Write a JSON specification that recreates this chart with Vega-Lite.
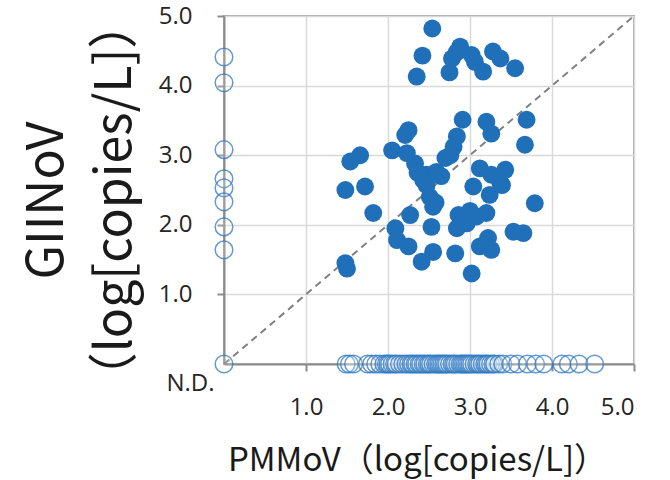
{
  "$schema": "https://vega.github.io/schema/vega-lite/v6.json",
  "width": 410,
  "height": 348,
  "autosize": {"type": "none"},
  "padding": {"left": 224, "top": 16, "right": 36, "bottom": 116},
  "background": "white",
  "config": {
    "view": {"stroke": "#a6a6a6", "strokeWidth": 2},
    "axis": {
      "labelFont": "Open Sans",
      "labelFontSize": 24,
      "labelColor": "#262626",
      "domainColor": "#8c8c8c",
      "domainWidth": 2,
      "tickColor": "#8c8c8c",
      "tickWidth": 2,
      "tickSize": 7,
      "gridColor": "#d9d9d9",
      "gridWidth": 1.5,
      "titleFont": "Noto Sans CJK JP",
      "titleFontWeight": "normal",
      "titleColor": "#1a1a1a"
    }
  },
  "datasets": {
    "diag": [{"pmmov": 0, "gii": 0}, {"pmmov": 5, "gii": 5}],
    "pts": [
      {"pmmov": 2.54, "gii": 4.82, "status": "both"},
      {"pmmov": 2.42, "gii": 4.43, "status": "both"},
      {"pmmov": 2.35, "gii": 4.13, "status": "both"},
      {"pmmov": 2.75, "gii": 4.19, "status": "both"},
      {"pmmov": 2.88, "gii": 4.56, "status": "both"},
      {"pmmov": 2.78, "gii": 4.39, "status": "both"},
      {"pmmov": 2.84, "gii": 4.48, "status": "both"},
      {"pmmov": 3.02, "gii": 4.44, "status": "both"},
      {"pmmov": 3.06, "gii": 4.34, "status": "both"},
      {"pmmov": 3.16, "gii": 4.2, "status": "both"},
      {"pmmov": 3.28, "gii": 4.49, "status": "both"},
      {"pmmov": 3.37, "gii": 4.39, "status": "both"},
      {"pmmov": 3.55, "gii": 4.25, "status": "both"},
      {"pmmov": 2.91, "gii": 3.51, "status": "both"},
      {"pmmov": 3.2, "gii": 3.48, "status": "both"},
      {"pmmov": 3.26, "gii": 3.31, "status": "both"},
      {"pmmov": 3.69, "gii": 3.51, "status": "both"},
      {"pmmov": 3.67, "gii": 3.15, "status": "both"},
      {"pmmov": 2.25, "gii": 3.36, "status": "both"},
      {"pmmov": 2.21, "gii": 3.29, "status": "both"},
      {"pmmov": 2.05, "gii": 3.07, "status": "both"},
      {"pmmov": 2.23, "gii": 3.03, "status": "both"},
      {"pmmov": 2.33, "gii": 2.88, "status": "both"},
      {"pmmov": 2.84, "gii": 3.27, "status": "both"},
      {"pmmov": 2.8, "gii": 3.12, "status": "both"},
      {"pmmov": 2.76, "gii": 3.0, "status": "both"},
      {"pmmov": 2.7, "gii": 2.96, "status": "both"},
      {"pmmov": 2.47, "gii": 2.72, "status": "both"},
      {"pmmov": 2.59, "gii": 2.76, "status": "both"},
      {"pmmov": 1.66, "gii": 3.0, "status": "both"},
      {"pmmov": 1.54, "gii": 2.91, "status": "both"},
      {"pmmov": 1.48, "gii": 2.5, "status": "both"},
      {"pmmov": 1.72, "gii": 2.55, "status": "both"},
      {"pmmov": 3.12, "gii": 2.81, "status": "both"},
      {"pmmov": 3.26, "gii": 2.72, "status": "both"},
      {"pmmov": 3.43, "gii": 2.79, "status": "both"},
      {"pmmov": 3.04, "gii": 2.55, "status": "both"},
      {"pmmov": 3.37, "gii": 2.6, "status": "both"},
      {"pmmov": 2.43, "gii": 2.64, "status": "both"},
      {"pmmov": 1.82, "gii": 2.17, "status": "both"},
      {"pmmov": 2.27, "gii": 2.14, "status": "both"},
      {"pmmov": 2.51, "gii": 2.4, "status": "both"},
      {"pmmov": 2.55, "gii": 2.26, "status": "both"},
      {"pmmov": 2.58, "gii": 2.32, "status": "both"},
      {"pmmov": 2.53, "gii": 1.97, "status": "both"},
      {"pmmov": 2.09, "gii": 1.95, "status": "both"},
      {"pmmov": 2.11, "gii": 1.78, "status": "both"},
      {"pmmov": 2.25, "gii": 1.69, "status": "both"},
      {"pmmov": 2.41, "gii": 1.47, "status": "both"},
      {"pmmov": 2.55, "gii": 1.61, "status": "both"},
      {"pmmov": 2.82, "gii": 1.59, "status": "both"},
      {"pmmov": 3.02, "gii": 1.3, "status": "both"},
      {"pmmov": 2.86, "gii": 2.14, "status": "both"},
      {"pmmov": 2.84, "gii": 1.95, "status": "both"},
      {"pmmov": 2.96, "gii": 2.02, "status": "both"},
      {"pmmov": 3.08, "gii": 2.12, "status": "both"},
      {"pmmov": 3.2, "gii": 2.17, "status": "both"},
      {"pmmov": 3.24, "gii": 2.43, "status": "both"},
      {"pmmov": 3.39, "gii": 2.57, "status": "both"},
      {"pmmov": 3.12, "gii": 1.69, "status": "both"},
      {"pmmov": 3.22, "gii": 1.81, "status": "both"},
      {"pmmov": 3.26, "gii": 1.64, "status": "both"},
      {"pmmov": 3.53, "gii": 1.9, "status": "both"},
      {"pmmov": 3.65, "gii": 1.88, "status": "both"},
      {"pmmov": 3.79, "gii": 2.31, "status": "both"},
      {"pmmov": 1.48, "gii": 1.45, "status": "both"},
      {"pmmov": 1.5, "gii": 1.37, "status": "both"},
      {"pmmov": 2.47, "gii": 2.57, "status": "both"},
      {"pmmov": 2.92, "gii": 2.08, "status": "both"},
      {"pmmov": 3.0, "gii": 2.2, "status": "both"},
      {"pmmov": 2.9, "gii": 2.02, "status": "both"},
      {"pmmov": 2.36, "gii": 2.75, "status": "both"},
      {"pmmov": 2.65, "gii": 2.7, "status": "both"},
      {"pmmov": 0, "gii": 4.41, "status": "nd"},
      {"pmmov": 0, "gii": 4.04, "status": "nd"},
      {"pmmov": 0, "gii": 3.08, "status": "nd"},
      {"pmmov": 0, "gii": 2.66, "status": "nd"},
      {"pmmov": 0, "gii": 2.53, "status": "nd"},
      {"pmmov": 0, "gii": 2.33, "status": "nd"},
      {"pmmov": 0, "gii": 1.97, "status": "nd"},
      {"pmmov": 0, "gii": 1.64, "status": "nd"},
      {"pmmov": 0, "gii": 0, "status": "nd"},
      {"pmmov": 1.49, "gii": 0, "status": "nd"},
      {"pmmov": 1.53, "gii": 0, "status": "nd"},
      {"pmmov": 1.58, "gii": 0, "status": "nd"},
      {"pmmov": 1.75, "gii": 0, "status": "nd"},
      {"pmmov": 1.8, "gii": 0, "status": "nd"},
      {"pmmov": 1.85, "gii": 0, "status": "nd"},
      {"pmmov": 1.9, "gii": 0, "status": "nd"},
      {"pmmov": 1.95, "gii": 0, "status": "nd"},
      {"pmmov": 1.98, "gii": 0, "status": "nd"},
      {"pmmov": 2.0, "gii": 0, "status": "nd"},
      {"pmmov": 2.02, "gii": 0, "status": "nd"},
      {"pmmov": 2.05, "gii": 0, "status": "nd"},
      {"pmmov": 2.08, "gii": 0, "status": "nd"},
      {"pmmov": 2.1, "gii": 0, "status": "nd"},
      {"pmmov": 2.14, "gii": 0, "status": "nd"},
      {"pmmov": 2.18, "gii": 0, "status": "nd"},
      {"pmmov": 2.22, "gii": 0, "status": "nd"},
      {"pmmov": 2.25, "gii": 0, "status": "nd"},
      {"pmmov": 2.28, "gii": 0, "status": "nd"},
      {"pmmov": 2.3, "gii": 0, "status": "nd"},
      {"pmmov": 2.33, "gii": 0, "status": "nd"},
      {"pmmov": 2.35, "gii": 0, "status": "nd"},
      {"pmmov": 2.38, "gii": 0, "status": "nd"},
      {"pmmov": 2.4, "gii": 0, "status": "nd"},
      {"pmmov": 2.43, "gii": 0, "status": "nd"},
      {"pmmov": 2.45, "gii": 0, "status": "nd"},
      {"pmmov": 2.48, "gii": 0, "status": "nd"},
      {"pmmov": 2.5, "gii": 0, "status": "nd"},
      {"pmmov": 2.52, "gii": 0, "status": "nd"},
      {"pmmov": 2.55, "gii": 0, "status": "nd"},
      {"pmmov": 2.58, "gii": 0, "status": "nd"},
      {"pmmov": 2.6, "gii": 0, "status": "nd"},
      {"pmmov": 2.62, "gii": 0, "status": "nd"},
      {"pmmov": 2.64, "gii": 0, "status": "nd"},
      {"pmmov": 2.66, "gii": 0, "status": "nd"},
      {"pmmov": 2.68, "gii": 0, "status": "nd"},
      {"pmmov": 2.7, "gii": 0, "status": "nd"},
      {"pmmov": 2.72, "gii": 0, "status": "nd"},
      {"pmmov": 2.75, "gii": 0, "status": "nd"},
      {"pmmov": 2.78, "gii": 0, "status": "nd"},
      {"pmmov": 2.8, "gii": 0, "status": "nd"},
      {"pmmov": 2.82, "gii": 0, "status": "nd"},
      {"pmmov": 2.85, "gii": 0, "status": "nd"},
      {"pmmov": 2.88, "gii": 0, "status": "nd"},
      {"pmmov": 2.9, "gii": 0, "status": "nd"},
      {"pmmov": 2.92, "gii": 0, "status": "nd"},
      {"pmmov": 2.94, "gii": 0, "status": "nd"},
      {"pmmov": 2.96, "gii": 0, "status": "nd"},
      {"pmmov": 2.98, "gii": 0, "status": "nd"},
      {"pmmov": 3.0, "gii": 0, "status": "nd"},
      {"pmmov": 3.02, "gii": 0, "status": "nd"},
      {"pmmov": 3.05, "gii": 0, "status": "nd"},
      {"pmmov": 3.08, "gii": 0, "status": "nd"},
      {"pmmov": 3.1, "gii": 0, "status": "nd"},
      {"pmmov": 3.12, "gii": 0, "status": "nd"},
      {"pmmov": 3.15, "gii": 0, "status": "nd"},
      {"pmmov": 3.18, "gii": 0, "status": "nd"},
      {"pmmov": 3.2, "gii": 0, "status": "nd"},
      {"pmmov": 3.22, "gii": 0, "status": "nd"},
      {"pmmov": 3.25, "gii": 0, "status": "nd"},
      {"pmmov": 3.28, "gii": 0, "status": "nd"},
      {"pmmov": 3.3, "gii": 0, "status": "nd"},
      {"pmmov": 3.35, "gii": 0, "status": "nd"},
      {"pmmov": 3.4, "gii": 0, "status": "nd"},
      {"pmmov": 3.5, "gii": 0, "status": "nd"},
      {"pmmov": 3.58, "gii": 0, "status": "nd"},
      {"pmmov": 3.7, "gii": 0, "status": "nd"},
      {"pmmov": 3.8, "gii": 0, "status": "nd"},
      {"pmmov": 3.9, "gii": 0, "status": "nd"},
      {"pmmov": 4.12, "gii": 0, "status": "nd"},
      {"pmmov": 4.2, "gii": 0, "status": "nd"},
      {"pmmov": 4.33, "gii": 0, "status": "nd"},
      {"pmmov": 4.52, "gii": 0, "status": "nd"}
    ]
  },
  "encoding": {
    "x": {
      "field": "pmmov",
      "type": "quantitative",
      "scale": {"domain": [0, 5], "nice": false, "zero": false},
      "axis": {
        "values": [1, 2, 3, 4, 5],
        "format": ".1f",
        "labelPadding": 24,
        "title": "PMMoV（log[copies/L]）",
        "titleFontSize": 33,
        "titleX": 193,
        "titleY": 106,
        "titleAlign": "center",
        "titleBaseline": "alphabetic"
      }
    },
    "y": {
      "field": "gii",
      "type": "quantitative",
      "scale": {"domain": [0, 5], "nice": false, "zero": false},
      "axis": {
        "values": [0, 1, 2, 3, 4, 5],
        "labelExpr": "datum.value == 0 ? 'N.D.' : format(datum.value, '.1f')",
        "labelPadding": {"condition": {"test": "datum.value == 0", "value": 10}, "value": 25},
        "labelOffset": {"condition": {"test": "datum.value == 0", "value": 19}, "value": 0},
        "tickSize": {"condition": {"test": "datum.value == 0", "value": 0}, "value": 7},
        "title": ["GIINoV", "（log[copies/L]）"],
        "titleFontSize": 50,
        "titleLineHeight": 68,
        "titleAngle": 270,
        "titleX": -162,
        "titleY": 184,
        "titleAlign": "center",
        "titleBaseline": "alphabetic"
      }
    }
  },
  "layer": [
    {
      "data": {"name": "diag"},
      "mark": {"type": "line", "color": "#808080", "strokeWidth": 2, "strokeDash": [7, 5]},
      "encoding": {}
    },
    {
      "data": {"name": "pts"},
      "transform": [{"filter": "datum.status == 'nd'"}],
      "mark": {"type": "point", "shape": "circle", "size": 310, "filled": false, "fill": "white", "fillOpacity": 0.15, "stroke": "#2f78c2", "strokeOpacity": 0.75, "strokeWidth": 1.5, "opacity": 1}
    },
    {
      "data": {"name": "pts"},
      "transform": [{"filter": "datum.status == 'both'"}],
      "mark": {"type": "circle", "size": 320, "color": "#1f6fb9", "opacity": 1}
    }
  ]
}
